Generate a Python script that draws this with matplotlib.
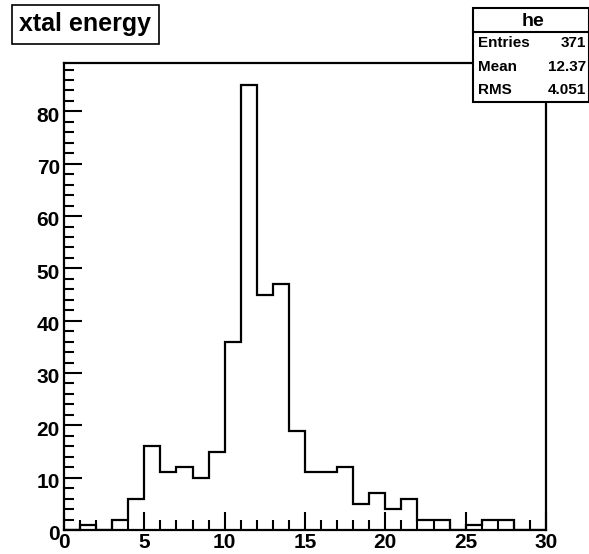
import numpy as np
import matplotlib
matplotlib.use("Agg")
import matplotlib.pyplot as plt
import matplotlib.transforms as mtransforms
from matplotlib.ticker import MultipleLocator

plt.rcParams['font.family'] = ['Liberation Sans', 'DejaVu Sans']
plt.rcParams['font.weight'] = 'bold'

# bin contents of histogram "he", bins of width 1 from 0 to 30
edges = list(range(0, 31))
counts = [0, 1, 0, 2, 6, 16, 11, 12, 10, 15, 36, 85, 45, 47, 19,
          11, 11, 12, 5, 7, 4, 6, 2, 2, 0, 1, 2, 2, 0, 0]
stat_names = ["Entries", "Mean", "RMS"]
stat_values = ["371", "12.37", "4.051"]

W, H = 589, 554
fig = plt.figure(figsize=(W / 100, H / 100), dpi=100)
ax = fig.add_axes([64 / W, 24 / H, (546 - 64) / W, (530 - 63) / H])
ax.stairs(counts, edges, color='black', lw=1.6)
ax.set_xlim(0, 30)
ax.set_ylim(0, 89.25)

for s in ['top', 'right', 'left', 'bottom']:
    ax.spines[s].set_linewidth(1.6)

ax.xaxis.set_major_locator(MultipleLocator(5))
ax.xaxis.set_minor_locator(MultipleLocator(1))
ax.yaxis.set_major_locator(MultipleLocator(10))
ax.yaxis.set_minor_locator(MultipleLocator(2))
ax.tick_params(which='both', direction='in', top=False, right=False, width=1.5)
ax.tick_params(which='major', length=13, labelsize=15)
ax.tick_params(which='minor', length=7)
ax.tick_params(axis='y', pad=3)
ax.tick_params(axis='x', pad=2.5)

# ROOT puts the y labels a little below their ticks
shift = mtransforms.ScaledTranslation(0, -2 / 72, fig.dpi_scale_trans)
for lab in ax.get_yticklabels():
    lab.set_transform(lab.get_transform() + shift)
for lab in ax.get_xticklabels() + ax.get_yticklabels():
    lab.set_fontweight('bold')

# title box
fig.text(19 / W, 1 - 24 / H, "xtal energy", fontsize=18, fontweight='bold', va='center', ha='left',
         bbox=dict(boxstyle='square,pad=0.3', fc='white', ec='black', lw=1.2))

# stats box
x0, x1 = 473 / W, 588.5 / W
y_top, y_bot = 1 - 8 / H, 1 - 102 / H
y_sep = 1 - 32 / H
box = plt.Rectangle((x0, y_bot), x1 - x0, y_top - y_bot, transform=fig.transFigure,
                    fc='white', ec='black', lw=1.5)
fig.add_artist(box)
fig.add_artist(plt.Line2D([x0, x1], [y_sep, y_sep], transform=fig.transFigure, color='black', lw=1.5))
fig.text(533 / W, 1 - 21 / H, "he", fontsize=14, fontweight='bold', ha='center', va='center')
rows_y = [1 - 43 / H, 1 - 67 / H, 1 - 90 / H]
for name, val, yy in zip(stat_names, stat_values, rows_y):
    fig.text(478 / W, yy, name, fontsize=11, fontweight='bold', ha='left', va='center')
    fig.text(586 / W, yy, val, fontsize=11, fontweight='bold', ha='right', va='center')

fig.savefig("out.png", dpi=100)
